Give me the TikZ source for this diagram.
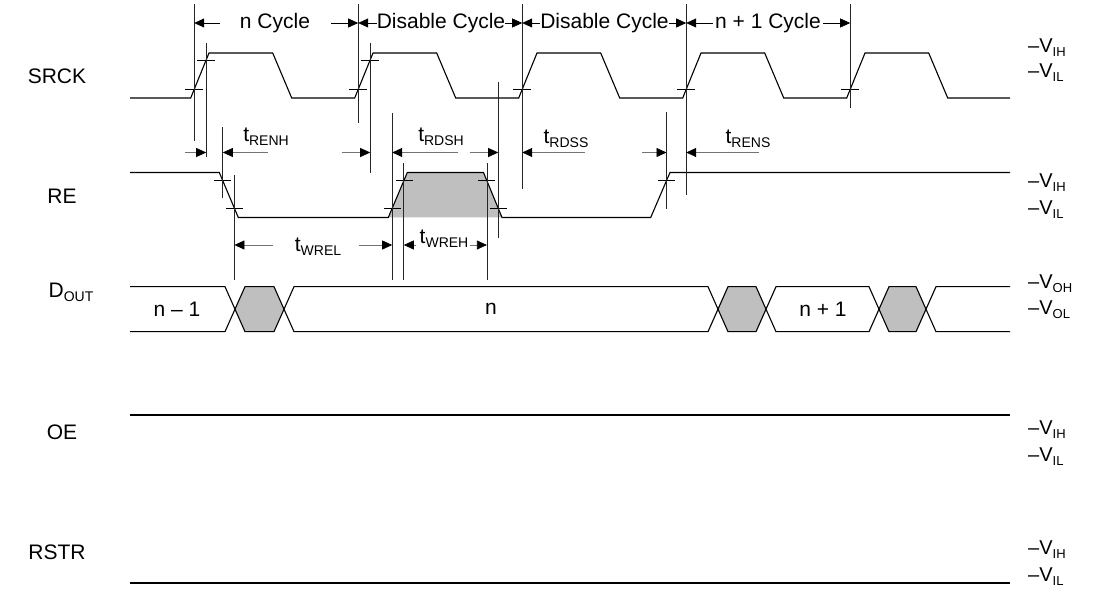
\documentclass[tikz,border=0pt]{standalone}
\usepackage{fontspec}
\setmainfont{Liberation Sans}
\usetikzlibrary{arrows.meta}
\newcommand{\tsb}[1]{t\raisebox{-0.35ex}{\fontsize{14}{14}\selectfont #1}}
\newcommand{\vsb}[1]{\textendash V\raisebox{-0.4ex}{\fontsize{13}{13}\selectfont #1}}
\begin{document}
\begin{tikzpicture}[x=1pt,y=-1pt,
  sig/.style={line width=1.1pt, line join=miter},
  guide/.style={line width=0.7pt, black!85},
  tk/.style={line width=0.7pt, black},
  dim/.style={line width=0.7pt, black!55, -{Triangle[length=10pt,width=9pt,color=black]}},
  cyc/.style={line width=0.7pt, black, -{Triangle[length=10pt,width=9pt,color=black]}},
  lbl/.style={font=\fontsize{21}{24}\selectfont, inner sep=0pt},
  vl/.style={font=\fontsize{20}{24}\selectfont, inner sep=0pt, anchor=west},
  busfill/.style={fill=black!25},
]
\useasboundingbox (0,0) rectangle (1112,593);

% ---------- signal names ----------
\node[lbl] (nSRCK) at (57,76) {SRCK};
\node[lbl] (nRE) at (62,196) {RE};
\node[lbl] (nDOUT) at (71,292) {D\raisebox{-0.35ex}{\fontsize{14}{14}\selectfont OUT}};
\node[lbl] (nOE) at (62,432) {OE};
\node[lbl] (nRSTR) at (57,552) {RSTR};

% ---------- level labels ----------
\node[vl] (l1) at (1028,48) {\vsb{IH}};
\node[vl] (l2) at (1028,73) {\vsb{IL}};
\node[vl] (l3) at (1028,183) {\vsb{IH}};
\node[vl] (l4) at (1028,210) {\vsb{IL}};
\node[vl] (l5) at (1028,284) {\vsb{OH}};
\node[vl] (l6) at (1028,310) {\vsb{OL}};
\node[vl] (l7) at (1028,430) {\vsb{IH}};
\node[vl] (l8) at (1028,457) {\vsb{IL}};
\node[vl] (l9) at (1028,550) {\vsb{IH}};
\node[vl] (l10) at (1028,577) {\vsb{IL}};

% ---------- SRCK ----------
\draw[sig] (130,98)
  \foreach \b in {190.7,354.7,518.7,682.7,846.7} {
    -- (\b,98) -- ({\b+18.3},53) -- ({\b+82},53) -- ({\b+101},98) }
  -- (1010,98);
% threshold ticks on SRCK rising edges
\foreach \b in {190.7,354.7,518.7,682.7,846.7}
  \draw[tk] ({\b+3.5-9},89.5) -- ({\b+3.5+9},89.5);
\foreach \b in {190.7,354.7}
  \draw[tk] ({\b+15.5-9},60) -- ({\b+15.5+9},60);

% ---------- RE ----------
\fill[black!25] (388.3,217.5) -- (407.3,172.5) -- (483.5,172.5) -- (502,217.5) -- cycle;
\draw[sig] (130,172.5) -- (219.3,172.5) -- (238.3,217.5) -- (388.3,217.5) -- (407.3,172.5)
  -- (483.5,172.5) -- (502,217.5) -- (650.7,217.5) -- (670,172.5) -- (1010,172.5);
% ticks on RE edges
\draw[tk] (214,180.7) -- (231,180.7);
\draw[tk] (226,208.3) -- (243,208.3);
\draw[tk] (384,208.3) -- (401,208.3);
\draw[tk] (396,180.7) -- (413,180.7);
\draw[tk] (478,180.7) -- (495,180.7);
\draw[tk] (490,208.3) -- (507,208.3);
\draw[tk] (658,180.7) -- (675,180.7);

% ---------- guide lines ----------
\coordinate (g1t) at (194.2,4);   \coordinate (g1b) at (194.2,141);
\coordinate (g1u) at (206.2,43);  \coordinate (g1v) at (206.2,157);
\coordinate (g2t) at (358.2,4);   \coordinate (g2b) at (358.2,123);
\coordinate (g2u) at (370.2,43);  \coordinate (g2v) at (370.2,173);
\coordinate (g3t) at (522.2,4);   \coordinate (g3b) at (522.2,189);
\coordinate (g4t) at (686.2,4);   \coordinate (g4b) at (686.2,195);
\coordinate (g5t) at (850.2,4);   \coordinate (g5b) at (850.2,108);
\coordinate (r1t) at (222.8,127); \coordinate (r1b) at (222.8,198);
\coordinate (r2t) at (234.4,175); \coordinate (r2b) at (234.4,280);
\coordinate (r3t) at (392.2,113); \coordinate (r3b) at (392.2,280);
\coordinate (r4t) at (403.8,163); \coordinate (r4b) at (403.8,280);
\coordinate (r5t) at (486.9,163); \coordinate (r5b) at (486.9,280);
\coordinate (r6t) at (498.2,82);  \coordinate (r6b) at (498.2,238);
\coordinate (r7t) at (666.5,112); \coordinate (r7b) at (666.5,209);
\foreach \p in {g1,g2,g3,g4,g5,r1,r2,r3,r4,r5,r6,r7}
  \draw[guide] (\p t) -- (\p b);
\draw[guide] (g1u) -- (g1v);
\draw[guide] (g2u) -- (g2v);

% ---------- cycle dimensions ----------
\node[lbl] (c1) at (275,23) {n Cycle};
\node[lbl] (c2) at (441,23) {Disable Cycle};
\node[lbl] (c3) at (604.5,23) {Disable Cycle};
\node[lbl] (c4) at (768,23) {n + 1 Cycle};
\draw[cyc] (220,23) -- (g1t |- c1);
\draw[cyc] (331,23) -- (g2t |- c1);
\draw[cyc] (c2.west) -- (g2t |- c2);
\draw[cyc] (c2.east) -- (g3t |- c2);
\draw[cyc] (c3.west) -- (g3t |- c3);
\draw[cyc] (c3.east) -- (g4t |- c3);
\draw[cyc] ([xshift=-2pt]c4.west) -- (g4t |- c4);
\draw[cyc] ([xshift=2pt]c4.east) -- (g5t |- c4);

% ---------- timing parameters ----------
\node[lbl] (tRENH) at (266,137) {\tsb{RENH}};
\node[lbl] (tRDSH) at (441,137) {\tsb{RDSH}};
\node[lbl] (tRDSS) at (566,139) {\tsb{RDSS}};
\node[lbl] (tRENS) at (748,139) {\tsb{RENS}};
\node[lbl] (tWREL) at (318,247) {\tsb{WREL}};
\node[lbl] (tWREH) at (444,239) {\tsb{WREH}};

\coordinate (a1) at (185,152.5);  \coordinate (a2) at (268,152.5);
\draw[dim] (a1) -- (a1 -| g1u);
\draw[dim] (a2) -- (a2 -| r1t);
\coordinate (a3) at (342,152.5);  \coordinate (a4) at (458,152.5);
\draw[dim] (a3) -- (a3 -| g2u);
\draw[dim] (a4) -- (a4 -| r3t);
\coordinate (a5) at (470,152.5);  \coordinate (a6) at (585,152.5);
\draw[dim] (a5) -- (a5 -| r6t);
\draw[dim] (a6) -- (a6 -| g3t);
\coordinate (a7) at (642,152.5);  \coordinate (a8) at (759,152.5);
\draw[dim] (a7) -- (a7 -| r7t);
\draw[dim] (a8) -- (a8 -| g4t);
\coordinate (b1) at (273,245);    \coordinate (b2) at (359,245);
\draw[dim] (b1) -- (b1 -| r2t);
\draw[dim] (b2) -- (b2 -| r3t);
\coordinate (b3) at (416,245);    \coordinate (b4) at (470,245);
\draw[dim] (b3) -- (b3 -| r4t);
\draw[dim] (b4) -- (b4 -| r5t);

% ---------- D_OUT bus ----------
\foreach \a/\c in {225/284, 708/766, 869/926}
  \fill[busfill] ({\a+10},309) -- ({\a+20},286.7) -- ({\c-10},286.7) -- (\c,309)
    -- ({\c-10},331.7) -- ({\a+20},331.7) -- cycle;
\draw[sig] (130,286.7) -- (225,286.7) -- (245,331.7) -- (274,331.7) -- (294,286.7)
  -- (708,286.7) -- (728,331.7) -- (756,331.7) -- (776,286.7) -- (869,286.7)
  -- (889,331.7) -- (916,331.7) -- (936,286.7) -- (1010,286.7);
\draw[sig] (130,331.7) -- (225,331.7) -- (245,286.7) -- (274,286.7) -- (294,331.7)
  -- (708,331.7) -- (728,286.7) -- (756,286.7) -- (776,331.7) -- (869,331.7)
  -- (889,286.7) -- (916,286.7) -- (936,331.7) -- (1010,331.7);
\node[lbl] (dn1) at (177,309) {n \textendash{} 1};
\node[lbl] (dn) at (491,309) {n};
\node[lbl] (dn2) at (823,309) {n + 1};

% ---------- OE, RSTR ----------
\draw[sig] (130,415) -- (1010,415);
\draw[sig] (130,583) -- (1010,583);
\end{tikzpicture}
\end{document}
